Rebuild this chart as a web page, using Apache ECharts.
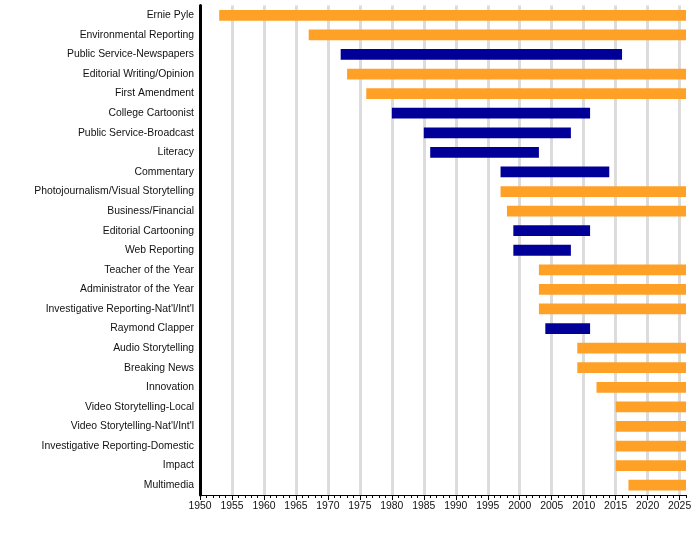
<!DOCTYPE html>
<html>
<head>
<meta charset="utf-8">
<script src="https://cdn.jsdelivr.net/npm/echarts@6/dist/echarts.min.js"></script>
<style>
  html, body { margin: 0; padding: 0; background: #fff; }
  #chart { width: 700px; height: 550px; }
</style>
</head>
<body>
<div id="chart"></div>
<script>
// award categories, top to bottom
const categories = [
  "Ernie Pyle", "Environmental Reporting", "Public Service-Newspapers",
  "Editorial Writing/Opinion", "First Amendment", "College Cartoonist",
  "Public Service-Broadcast", "Literacy", "Commentary",
  "Photojournalism/Visual Storytelling", "Business/Financial",
  "Editorial Cartooning", "Web Reporting", "Teacher of the Year",
  "Administrator of the Year", "Investigative Reporting-Nat'l/Int'l",
  "Raymond Clapper", "Audio Storytelling", "Breaking News", "Innovation",
  "Video Storytelling-Local", "Video Storytelling-Nat'l/Int'l",
  "Investigative Reporting-Domestic", "Impact", "Multimedia"
];
const startYears = [
  1953, 1967, 1972, 1973, 1976, 1980, 1985, 1986, 1997, 1997, 1998, 1999, 1999,
  2003, 2003, 2003, 2004, 2009, 2009, 2012, 2015, 2015, 2015, 2015, 2017
];
const endYears = [
  2026, 2026, 2016, 2026, 2026, 2011, 2008, 2003, 2014, 2026, 2026, 2011, 2008,
  2026, 2026, 2026, 2011, 2026, 2026, 2026, 2026, 2026, 2026, 2026, 2026
];
// true = still awarded, false = discontinued
const active = [
  true, true, false, true, true, false, false, false, false, true, true, false, false,
  true, true, true, false, true, true, true, true, true, true, true, true
];

const yearMin = 1950;
const yearMax = 2026;
const font = 'Liberation Sans, Arial';

const chart = echarts.init(document.getElementById('chart'));

const data = categories.map(function (c, i) {
  return [i, startYears[i], endYears[i], active[i] ? 1 : 0];
});

const option = {
  animation: false,
  grid: { left: 200, right: 14, top: 5.5, bottom: 55 },
  xAxis: [
    {
      type: 'value',
      min: yearMin,
      max: yearMax,
      interval: 5,
      position: 'bottom',
      axisLine: { show: true, lineStyle: { color: '#000', width: 1 } },
      axisTick: { show: true, length: 5, lineStyle: { color: '#000' } },
      axisLabel: {
        color: '#111', fontSize: 10.4, fontFamily: font, margin: 6,
        showMaxLabel: false,
        formatter: function (v) { return v % 5 === 0 ? String(v) : ''; }
      },
      splitLine: {
        show: true, showMinLine: false, showMaxLine: false,
        lineStyle: { color: '#dcdcdc', width: 3 }
      }
    },
    {
      type: 'value',
      min: yearMin,
      max: yearMax,
      interval: 1,
      position: 'bottom',
      axisLine: { show: false },
      axisTick: { show: true, length: 3, lineStyle: { color: '#000' } },
      axisLabel: { show: false },
      splitLine: { show: false }
    }
  ],
  yAxis: {
    type: 'category',
    data: categories,
    inverse: true,
    axisLine: { show: true, lineStyle: { color: '#000', width: 3 } },
    axisTick: { show: false },
    axisLabel: { color: '#111', fontSize: 10.4, fontFamily: font, margin: 6 },
    splitLine: { show: false }
  },
  series: [{
    type: 'custom',
    xAxisIndex: 0,
    encode: { x: [1, 2], y: 0 },
    renderItem: function (params, api) {
      const row = api.value(0);
      const p0 = api.coord([api.value(1), row]);
      const p1 = api.coord([api.value(2), row]);
      const h = api.size([0, 1])[1] * 0.55;
      const rect = echarts.graphic.clipRectByRect(
        { x: p0[0], y: p0[1] - h / 2, width: p1[0] - p0[0], height: h },
        { x: params.coordSys.x, y: params.coordSys.y,
          width: params.coordSys.width, height: params.coordSys.height }
      );
      return rect && {
        type: 'rect',
        shape: rect,
        style: { fill: api.value(3) ? '#ffa126' : '#000099' }
      };
    },
    data: data
  }]
};

chart.setOption(option);
</script>
</body>
</html>
